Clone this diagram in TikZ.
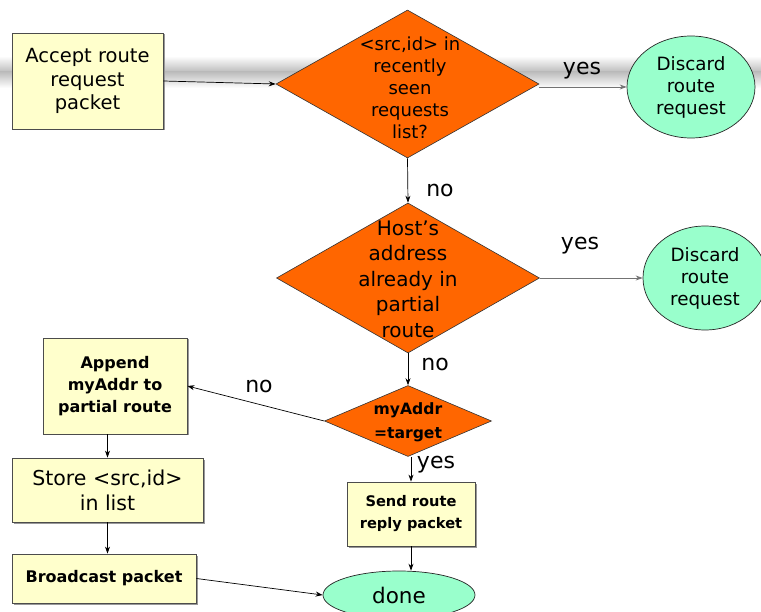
\documentclass[tikz,border=0pt]{standalone}
\usepackage{fontspec}
\setmainfont{DejaVu Sans}
\usetikzlibrary{shapes.geometric,arrows.meta,shadows}

\definecolor{boxfill}{HTML}{FFFFCC}
\definecolor{decfill}{HTML}{FF6600}
\definecolor{endfill}{HTML}{99FFCC}
\newcommand\fsz[2]{\fontsize{#1}{#2}\selectfont}

\tikzset{
  procbox/.style={draw=black!70, fill=boxfill, line width=0.8pt, inner sep=0pt,
    align=center, drop shadow={shadow xshift=1.5pt, shadow yshift=-1.5pt, fill=black!40, opacity=1}},
  decision/.style={diamond, draw=black!80, fill=decfill, line width=0.6pt, inner sep=0pt, aspect=1},
  dtext/.style={align=center, inner sep=0pt},
  terminal/.style={ellipse, draw=black!85, fill=endfill, line width=0.7pt, inner sep=0pt, align=center},
  flow/.style={draw=black, line width=0.7pt, -{Stealth[length=7pt,width=5pt]}},
  grayflow/.style={draw=black!55, line width=0.8pt, -{Stealth[length=7pt,width=5pt]}},
  answer/.style={inner sep=0pt, font=\fsz{22}{24}},
}

\begin{document}
\begin{tikzpicture}[x=1pt, y=-1pt]
  \clip (0,0) rectangle (761,612);
  \fill[white] (0,0) rectangle (761,612);

  % soft gray band behind the first row
  \shade[top color=white, bottom color=black!26] (0,56) rectangle (761,72);
  \shade[top color=black!26, bottom color=white] (0,72) rectangle (761,88);

  % process boxes
  \node[procbox, minimum width=151pt, minimum height=96pt, font=\fsz{19.5}{23.5}]
    (accept) at (87.5,81) {Accept route\\request\\packet};
  \node[procbox, minimum width=144pt, minimum height=96pt, font=\bfseries\fsz{16}{22}]
    (append) at (115,386) {Append\\myAddr to\\partial route};
  \node[procbox, minimum width=191pt, minimum height=64pt, font=\fsz{20.5}{25}]
    (store) at (107.5,490) {Store <src,id>\\in list};
  \node[procbox, minimum width=184pt, minimum height=49pt, font=\bfseries\fsz{16}{18}]
    (bcast) at (104,578.5) {Broadcast packet};
  \node[procbox, minimum width=128pt, minimum height=64pt, font=\bfseries\fsz{14.6}{22}]
    (send) at (411,514) {Send route\\reply packet};

  % decisions
  \node[decision, minimum width=263pt, minimum height=148pt] (seen) at (407.5,84) {};
  \node[dtext, font=\fsz{18}{22}] (seentxt) at (410,88) {<src,id> in\\recently\\seen\\requests\\list?};
  \node[decision, minimum width=263pt, minimum height=150pt] (host) at (408,278) {};
  \node[dtext, font=\fsz{20}{25.5}] (hosttxt) at (408,279) {Host's\\address\\already in\\partial\\route};
  \node[decision, minimum width=167pt, minimum height=71pt] (target) at (408,421) {};
  \node[dtext, font=\bfseries\fsz{15.6}{24}] (targettxt) at (408,422) {myAddr\\=target};

  % terminals
  \node[terminal, minimum width=128pt, minimum height=102pt, font=\fsz{18.3}{22}]
    (discardA) at (691,87) {Discard\\route\\request};
  \node[terminal, minimum width=124pt, minimum height=104pt, font=\fsz{18.3}{22}]
    (discardB) at (705,278) {Discard\\route\\request};
  \node[terminal, minimum width=152pt, minimum height=48pt, font=\fsz{21.5}{24}]
    (done) at (399,595) {done};

  % connectors
  \draw[flow] (accept.east) -- (seen.west);
  \draw[grayflow] (seen.east |- discardA.west) -- (discardA.west);
  \draw[flow] (seen.south) -- (host.north);
  \draw[grayflow] (host.east) -- (discardB.west);
  \draw[flow] (host.south) -- (target.north);
  \draw[flow] (target.west) -- (append.east);
  \draw[flow] (store.north |- append.south) -- (store.north);
  \draw[flow] (store.south) -- (store.south |- bcast.north);
  \draw[flow] (bcast.east) -- (done.west);
  \draw[flow] (send.north |- target.south) -- (send.north);
  \draw[flow] (send.south) -- (send.south |- done.north);

  % branch labels
  \node[answer] (yesA) at (582,71) {yes};
  \node[answer] (noA) at (440,190) {no};
  \node[answer] (yesB) at (580,246) {yes};
  \node[answer] (noB) at (435,364) {no};
  \node[answer] (noC) at (259,386) {no};
  \node[answer] (yesC) at (436,465) {yes};
\end{tikzpicture}
\end{document}
